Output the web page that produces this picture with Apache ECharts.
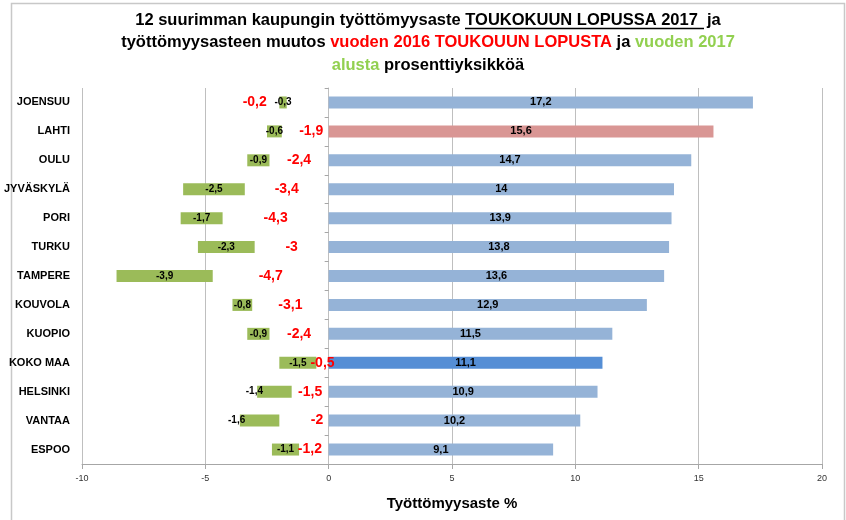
<!DOCTYPE html>
<html>
<head>
<meta charset="utf-8">
<script src="https://cdn.jsdelivr.net/npm/echarts@6/dist/echarts.min.js"></script>
<style>
html, body { margin: 0; padding: 0; background: #fff; }
#main { width: 846px; height: 520px; }
</style>
</head>
<body>
<div id="main"></div>
<script>
var kaupungit = ['JOENSUU', 'LAHTI', 'OULU', 'JYVÄSKYLÄ', 'PORI', 'TURKU', 'TAMPERE', 'KOUVOLA', 'KUOPIO', 'KOKO MAA', 'HELSINKI', 'VANTAA', 'ESPOO'];
// työttömyysaste toukokuun lopussa 2017
var tyottomyysaste = [17.2, 15.6, 14.7, 14, 13.9, 13.8, 13.6, 12.9, 11.5, 11.1, 10.9, 10.2, 9.1];
// muutos vuoden 2016 toukokuun lopusta (punaiset luvut)
var muutosVuodesta = [-0.2, -1.9, -2.4, -3.4, -4.3, -3, -4.7, -3.1, -2.4, -0.5, -1.5, -2, -1.2];
// kohta josta vihreä palkki alkaa (näkymätön pohjapalkki)
var pohja = [-1.7, -1.9, -2.4, -3.4, -4.3, -3, -4.7, -3.1, -2.4, -0.5, -1.5, -2, -1.2];
// muutos vuoden 2017 alusta (vihreät palkit)
var muutosAlusta = [-0.3, -0.6, -0.9, -2.5, -1.7, -2.3, -3.9, -0.8, -0.9, -1.5, -1.4, -1.6, -1.1];
var xMin = -10, xMax = 20, xVali = 5;

var fontti = "'Liberation Sans', Arial, sans-serif";

function pilkku(v) {
	return String(v).replace('.', ',');
}

// muutama nimiö on siirretty käsin alkuperäisessä kuvassa
var punainenSiirto = {'JOENSUU': [-53, 0], 'VANTAA': [13, 0], 'LAHTI': [6, 0], 'ESPOO': [-4, 0]};
var vihreaSiirto = {'HELSINKI': [-20, 0], 'VANTAA': [-23, 0]};

var pohjaData = pohja.map(function (v, i) {
	var item = {value: v};
	if (punainenSiirto[kaupungit[i]]) item.label = {offset: punainenSiirto[kaupungit[i]]};
	return item;
});
var vihreaData = muutosAlusta.map(function (v, i) {
	var item = {value: v};
	if (vihreaSiirto[kaupungit[i]]) item.label = {offset: vihreaSiirto[kaupungit[i]]};
	return item;
});

var chart = echarts.init(document.getElementById('main'));

var otsikko = {fontFamily: fontti, fontSize: 16.5, fontWeight: 'bold', lineHeight: 22.5};

var option = {
	backgroundColor: '#fff',
	animation: false,
	title: {
		left: 428,
		top: 9,
		padding: 0,
		textAlign: 'center',
		text: '{a|12 suurimman kaupungin työttömyysaste TOUKOKUUN LOPUSSA 2017  ja}\n' +
			'{a|työttömyysasteen muutos }{r|vuoden 2016 TOUKOUUN LOPUSTA}{a| ja }{g|vuoden 2017}\n' +
			'{g|alusta}{a| prosenttiyksikköä}',
		textStyle: {
			rich: {
				a: Object.assign({color: '#000'}, otsikko),
				r: Object.assign({color: '#ff0000'}, otsikko),
				g: Object.assign({color: '#92d050'}, otsikko)
			}
		}
	},
	graphic: [
		{
			type: 'rect',
			left: 9, top: 1,
			shape: {width: 833, height: 540},
			style: {fill: 'none', stroke: '#c8c8c8', lineWidth: 1.5},
			silent: true
		},
		{
			// alleviivaus "TOUKOKUUN LOPUSSA 2017"
			type: 'line',
			shape: {x1: 465, y1: 28.5, x2: 704, y2: 28.5},
			style: {stroke: '#000', lineWidth: 1.3},
			silent: true
		}
	],
	grid: {
		left: 82,
		right: 24,
		top: 88,
		bottom: 56,
		containLabel: false
	},
	xAxis: {
		type: 'value',
		min: xMin,
		max: xMax,
		interval: xVali,
		name: 'Työttömyysaste %',
		nameLocation: 'middle',
		nameGap: 32,
		nameTextStyle: {fontFamily: fontti, fontSize: 15, fontWeight: 'bold', color: '#000'},
		axisLine: {show: true, onZero: false, lineStyle: {color: '#a6a6a6'}},
		axisTick: {show: true, length: 5, lineStyle: {color: '#a6a6a6'}},
		axisLabel: {fontFamily: fontti, fontSize: 9, color: '#333', margin: 10},
		splitLine: {show: true, lineStyle: {color: '#bfbfbf', width: 1}}
	},
	yAxis: [
		{
			type: 'category',
			inverse: true,
			data: kaupungit,
			axisLine: {show: false, onZero: false},
			axisTick: {show: false},
			axisLabel: {fontFamily: fontti, fontSize: 11, fontWeight: 'bold', color: '#000', margin: 12}
		},
		{
			type: 'category',
			inverse: true,
			data: kaupungit,
			axisLine: {show: true, onZero: true, lineStyle: {color: '#bfbfbf'}},
			axisTick: {show: true, inside: true, length: 4, lineStyle: {color: '#a6a6a6'}},
			axisLabel: {show: false}
		}
	],
	series: [
		{
			name: 'pohja',
			type: 'bar',
			stack: 'muutos',
			barWidth: 12,
			data: pohjaData,
			itemStyle: {color: 'rgba(0,0,0,0)'},
			label: {
				show: true,
				position: 'inside',
				fontFamily: fontti,
				fontSize: 14,
				fontWeight: 'bold',
				color: '#ff0000',
				formatter: function (p) {
					return pilkku(muutosVuodesta[p.dataIndex]);
				}
			},
			z: 3
		},
		{
			name: 'alusta',
			type: 'bar',
			stack: 'muutos',
			barWidth: 12,
			data: vihreaData,
			itemStyle: {color: '#9bbb59'},
			label: {
				show: true,
				position: 'inside',
				fontFamily: fontti,
				fontSize: 10,
				fontWeight: 'bold',
				color: '#000',
				formatter: function (p) {
					return pilkku(p.value);
				}
			}
		},
		{
			name: 'aste',
			type: 'bar',
			barWidth: 12,
			barGap: '-100%',
			data: tyottomyysaste,
			itemStyle: {
				color: function (p) {
					if (p.name == 'LAHTI') return '#d99694';
					if (p.name == 'KOKO MAA') return '#558ed5';
					return '#95b3d7';
				}
			},
			label: {
				show: true,
				position: 'inside',
				fontFamily: fontti,
				fontSize: 11,
				fontWeight: 'bold',
				color: '#000',
				formatter: function (p) {
					return pilkku(p.value);
				}
			}
		}
	]
};

chart.setOption(option);
</script>
</body>
</html>
